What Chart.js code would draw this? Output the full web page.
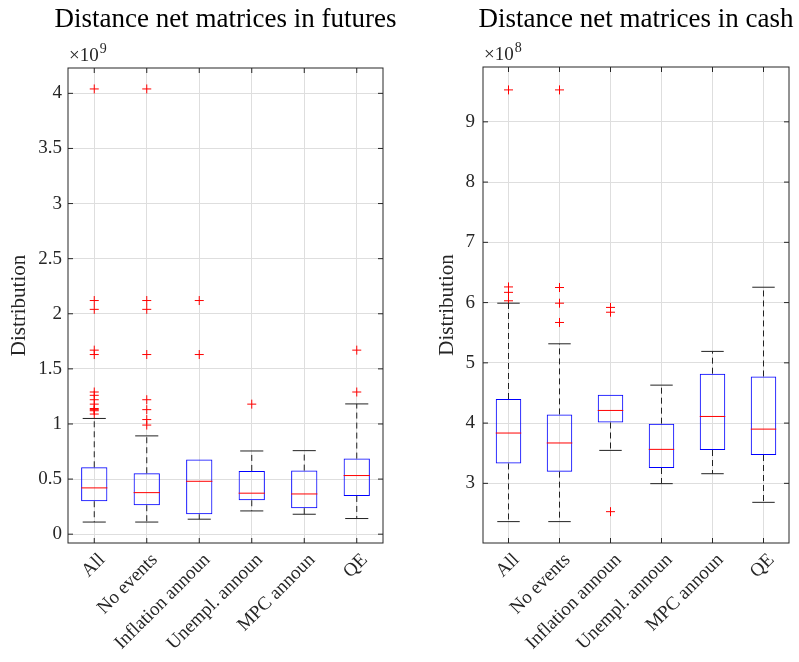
<!DOCTYPE html>
<html>
<head>
<meta charset="utf-8">
<script src="https://cdn.jsdelivr.net/npm/chart.js@4.4.1/dist/chart.umd.min.js"></script>
<style>
  html, body { margin: 0; padding: 0; background: #fff; }
  .wrap { position: relative; width: 799px; height: 662px; }
  canvas { position: absolute; top: 0; }
  #futures { left: 0; }
  #cash { left: 400px; }
</style>
</head>
<body>
<div class="wrap">
  <canvas id="futures" width="400" height="662"></canvas>
  <canvas id="cash" width="399" height="662"></canvas>
</div>
<script>
const categories = ["All", "No events", "Inflation announ", "Unempl. announ", "MPC announ", "QE"];

// futures panel, in units of 1e9
const futLower = [0.11, 0.11, 0.136, 0.211, 0.181, 0.142];
const futQ1 = [0.299, 0.263, 0.181, 0.308, 0.236, 0.347];
const futMedian = [0.42, 0.377, 0.48, 0.372, 0.365, 0.532];
const futQ3 = [0.607, 0.553, 0.677, 0.574, 0.577, 0.686];
const futUpper = [1.05, 0.892, 0.677, 0.755, 0.758, 1.182];
const futOutliers = [
  [4.04, 2.12, 2.04, 1.67, 1.63, 1.29, 1.26, 1.22, 1.18, 1.14, 1.13, 1.12, 1.09],
  [4.04, 2.12, 2.04, 1.63, 1.22, 1.13, 1.04, 0.99],
  [2.12, 1.63],
  [1.18],
  [],
  [1.67, 1.29]
];
const futTicks = [0, 0.5, 1, 1.5, 2, 2.5, 3, 3.5, 4];

// cash panel, in units of 1e8
const cashLower = [2.365, 2.365, 3.547, 2.995, 3.16, 2.685];
const cashQ1 = [3.33, 3.194, 4.01, 3.255, 3.553, 3.47];
const cashMedian = [3.835, 3.67, 4.21, 3.564, 4.11, 3.9];
const cashQ3 = [4.4, 4.144, 4.47, 3.99, 4.82, 4.774];
const cashUpper = [5.99, 5.316, 4.47, 4.63, 5.19, 6.255];
const cashOutliers = [
  [9.53, 6.26, 6.17, 6.03],
  [9.53, 6.25, 5.99, 5.67],
  [5.92, 5.84, 2.53],
  [],
  [],
  []
];
const cashTicks = [3, 4, 5, 6, 7, 8, 9];

const FONT = "'Liberation Serif', 'Times New Roman', serif";
const AXIS = '#262626';
const GRID = '#dedede';

// whiskers, caps, medians, frame with inward ticks, title and the x10^n note
const boxExtras = {
  id: 'boxExtras',
  afterDatasetsDraw(chart, args, o) {
    const { ctx, chartArea: a, scales: { x, y } } = chart;
    const unit = x.getPixelForValue(1) - x.getPixelForValue(0);
    ctx.save();
    categories.forEach((c, i) => {
      const cx = x.getPixelForValue(i);
      ctx.lineWidth = 1;
      ctx.strokeStyle = '#222';
      ctx.setLineDash([6, 4]);
      ctx.beginPath();
      if (o.upper[i] > o.q3[i]) {
        ctx.moveTo(cx, y.getPixelForValue(o.q3[i]));
        ctx.lineTo(cx, y.getPixelForValue(o.upper[i]));
      }
      if (o.lower[i] < o.q1[i]) {
        ctx.moveTo(cx, y.getPixelForValue(o.q1[i]));
        ctx.lineTo(cx, y.getPixelForValue(o.lower[i]));
      }
      ctx.stroke();
      ctx.setLineDash([]);
      const cap = unit * 0.22;
      ctx.beginPath();
      [o.upper[i], o.lower[i]].forEach((v, k) => {
        if ((k === 0 && v > o.q3[i]) || (k === 1 && v < o.q1[i])) {
          const py = y.getPixelForValue(v);
          ctx.moveTo(cx - cap, py);
          ctx.lineTo(cx + cap, py);
        }
      });
      ctx.stroke();
      const half = unit * 0.25;
      const my = y.getPixelForValue(o.median[i]);
      ctx.strokeStyle = '#ff0000';
      ctx.beginPath();
      ctx.moveTo(cx - half, my);
      ctx.lineTo(cx + half, my);
      ctx.stroke();
    });

    // frame and ticks
    ctx.strokeStyle = AXIS;
    ctx.lineWidth = 1;
    ctx.strokeRect(a.left, a.top, a.right - a.left, a.bottom - a.top);
    ctx.beginPath();
    y.ticks.forEach(t => {
      const py = y.getPixelForValue(t.value);
      ctx.moveTo(a.left, py); ctx.lineTo(a.left + 5, py);
      ctx.moveTo(a.right, py); ctx.lineTo(a.right - 5, py);
    });
    categories.forEach((c, i) => {
      const px = x.getPixelForValue(i);
      ctx.moveTo(px, a.bottom); ctx.lineTo(px, a.bottom - 5);
      ctx.moveTo(px, a.top); ctx.lineTo(px, a.top + 5);
    });
    ctx.stroke();

    ctx.fillStyle = AXIS;
    ctx.textBaseline = 'alphabetic';
    ctx.textAlign = 'left';
    ctx.font = '19px ' + FONT;
    const base = a.left + 1;
    ctx.fillText('\u00d710', base, a.top - 7);
    const w = ctx.measureText('\u00d710').width;
    ctx.font = '14px ' + FONT;
    ctx.fillText(o.exponent, base + w + 1, a.top - 15);

    // title, centred over the axes
    ctx.fillStyle = '#000';
    ctx.textAlign = 'center';
    ctx.font = '27px ' + FONT;
    ctx.fillText(o.title, (a.left + a.right) / 2, 27);
    ctx.restore();
  }
};

function makeChart(id, p) {
  const boxData = categories.map((c, i) => [p.q1[i], p.q3[i]]);
  const outlierPoints = [];
  p.outliers.forEach((list, i) => {
    list.forEach(v => outlierPoints.push({ x: categories[i], y: v }));
  });

  return new Chart(document.getElementById(id), {
    type: 'bar',
    data: {
      labels: categories,
      datasets: [
        {
          type: 'bar',
          data: boxData,
          backgroundColor: 'rgba(0,0,0,0)',
          borderColor: '#0000ff',
          borderWidth: 1,
          borderSkipped: false,
          barPercentage: 0.5,
          categoryPercentage: 1
        },
        {
          type: 'line',
          data: outlierPoints,
          showLine: false,
          pointStyle: 'cross',
          pointRadius: 4.5,
          borderColor: '#ff0000',
          backgroundColor: '#ff0000',
          pointBorderWidth: 1
        }
      ]
    },
    options: {
      responsive: false,
      animation: false,
      layout: { padding: { left: 0, right: p.width - p.right, top: p.top, bottom: 0 } },
      plugins: {
        legend: { display: false },
        tooltip: { enabled: false },
        title: { display: false },
        boxExtras: {
          lower: p.lower, q1: p.q1, median: p.median, q3: p.q3, upper: p.upper,
          exponent: p.exponent, title: p.title
        }
      },
      scales: {
        x: {
          type: 'category',
          offset: true,
          grid: { offset: false, color: GRID, drawTicks: false },
          border: { display: false },
          ticks: {
            autoSkip: false,
            minRotation: 45,
            maxRotation: 45,
            labelOffset: 8,
            color: AXIS,
            padding: 6,
            font: { family: FONT, size: 19 }
          },
          afterFit: s => { s.height = 662 - p.bottom; }
        },
        y: {
          min: p.min,
          max: p.max,
          afterBuildTicks: s => { s.ticks = p.ticks.map(v => ({ value: v })); },
          grid: { color: GRID, drawTicks: false },
          border: { display: false },
          ticks: {
            color: AXIS,
            padding: p.tickPad,
            font: { family: FONT, size: 19 },
            callback: v => String(v)
          },
          title: {
            display: true,
            text: 'Distribution',
            color: AXIS,
            font: { family: FONT, size: 21 },
            padding: { top: p.titlePad, bottom: 0 }
          },
          afterFit: s => { s.width = p.left; }
        }
      }
    },
    plugins: [boxExtras]
  });
}

makeChart('futures', {
  title: 'Distance net matrices in futures',
  exponent: '9',
  lower: futLower, q1: futQ1, median: futMedian, q3: futQ3, upper: futUpper,
  outliers: futOutliers, ticks: futTicks,
  min: -0.08, max: 4.23,
  width: 400, left: 68, right: 383, top: 68, bottom: 543,
  tickPad: 6, titlePad: 7
});

makeChart('cash', {
  title: 'Distance net matrices in cash',
  exponent: '8',
  lower: cashLower, q1: cashQ1, median: cashMedian, q3: cashQ3, upper: cashUpper,
  outliers: cashOutliers, ticks: cashTicks,
  min: 2.01, max: 9.91,
  width: 399, left: 83, right: 389, top: 67, bottom: 543,
  tickPad: 8, titlePad: 35
});
</script>
</body>
</html>
